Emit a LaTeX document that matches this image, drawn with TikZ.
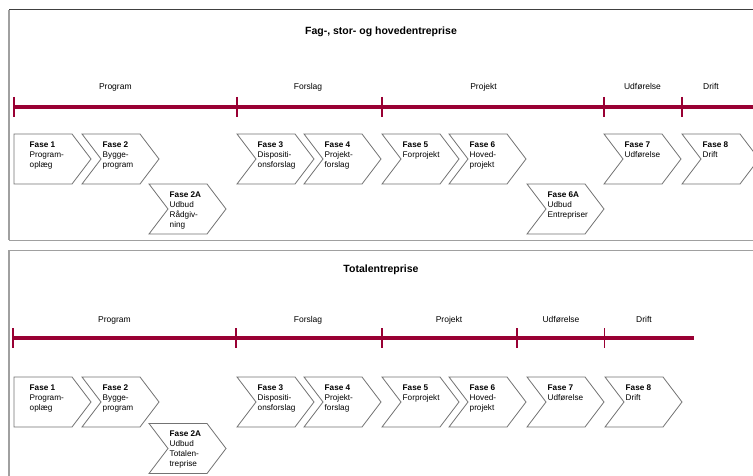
\documentclass[tikz,border=0pt]{standalone}
\usepackage{fontspec}
\setmainfont{Liberation Sans}
\usepackage{xcolor}
\usetikzlibrary{positioning, calc}
\definecolor{tlred}{RGB}{153,0,51}
\definecolor{chevgray}{RGB}{115,115,115}
\definecolor{framedark}{RGB}{64,64,64}
\definecolor{framegray}{RGB}{160,160,160}
\tikzset{%
  frametop/.style={draw=framedark, line width=1pt},
  frameside/.style={draw=framegray, line width=1.5pt},
  timeline/.style={draw=tlred, line width=3.6pt},
  tickmark/.style={draw=tlred, line width=1.7pt},
  title/.style={anchor=base, inner sep=0pt, font=\bfseries\fontsize{10.5}{12}\selectfont},
  phase/.style={anchor=base, inner sep=0pt, font=\fontsize{8.5}{10}\selectfont},
  fasebox/.style={draw=chevgray, fill=white, line width=0.8pt, line join=miter},
  fasetext/.style={anchor=north west, inner sep=0pt, align=left,
    font=\fontsize{8.2}{10}\selectfont}
}
% chevron: name, left x, top y, text
\newcommand{\fasechev}[4]{%
  \draw[fasebox] (#2,#3) -- ++(58,0) -- ++(19,25) -- ++(-19,25) -- ++(-58,0) -- ++(19,-25) -- cycle;
  \node[fasetext] (#1) at (#2+20.5,#3+7.4) {#4};
}
% first phase, flat left side
\newcommand{\fasestart}[4]{%
  \draw[fasebox] (#2,#3) -- ++(58,0) -- ++(19,25) -- ++(-19,25) -- ++(-58,0) -- cycle;
  \node[fasetext] (#1) at (#2+15.5,#3+7.4) {#4};
}

\begin{document}
\begin{tikzpicture}[x=1pt, y=-1pt]
  \useasboundingbox (0,0) rectangle (753,476);
  \clip (0,0) rectangle (753,476);

  % frames
  \draw[frametop] (9,10) -- (760,10);
  \draw[frameside] (9,10) -- (9,240);
  \draw[frameside, line width=1pt] (9,240) -- (760,240);
  \draw[frameside, line width=1pt] (9,250) -- (760,250);
  \draw[frameside] (9,250) -- (9,480);

  %%% Fag-, stor- og hovedentreprise
  \node[title] (t1) at (381,34.3) {Fag-, stor- og hovedentreprise};

  \coordinate (a0) at (14,107);
  \coordinate (a1) at (237,107);
  \coordinate (a2) at (382,107);
  \coordinate (a3) at (604,107);
  \coordinate (a4) at (682,107);
  \coordinate (aend) at (760,107);
  \draw[timeline] (a0) -- (aend);
  \foreach \t in {a0,a1,a2,a3,a4}
    \draw[tickmark] ($(\t)+(0,-10)$) -- ($(\t)+(0,10)$);

  \node[phase] (ap0) at (115.3,89.5) {Program};
  \node[phase] (ap1) at (308,89.5) {Forslag};
  \node[phase] (ap2) at (483.5,89.5) {Projekt};
  \node[phase] (ap3) at (642.5,89.5) {Udførelse};
  \node[phase] (ap4) at (711,89.5) {Drift};

  \fasestart{af1}{14}{134}{\textbf{Fase 1}\\Program-\\oplæg}
  \fasechev{af2}{82}{134}{\textbf{Fase 2}\\Bygge-\\program}
  \fasechev{af2a}{149}{184}{\textbf{Fase 2A}\\Udbud\\Rådgiv-\\ning}
  \fasechev{af3}{237}{134}{\textbf{Fase 3}\\Dispositi-\\onsforslag}
  \fasechev{af4}{304}{134}{\textbf{Fase 4}\\Projekt-\\forslag}
  \fasechev{af5}{382}{134}{\textbf{Fase 5}\\Forprojekt}
  \fasechev{af6}{449}{134}{\textbf{Fase 6}\\Hoved-\\projekt}
  \fasechev{af6a}{527}{184}{\textbf{Fase 6A}\\Udbud\\Entrepriser}
  \fasechev{af7}{604}{134}{\textbf{Fase 7}\\Udførelse}
  \fasechev{af8}{682}{134}{\textbf{Fase 8}\\Drift}

  %%% Totalentreprise
  \node[title] (t2) at (381,272.7) {Totalentreprise};

  \coordinate (b0) at (13,338);
  \coordinate (b1) at (236,338);
  \coordinate (b2) at (382,338);
  \coordinate (b3) at (517,338);
  \coordinate (b4) at (604.5,338);
  \coordinate (bend) at (694,338);
  \draw[timeline] (b0) -- (bend);
  \foreach \t in {b0,b1,b2,b3,b4}
    \draw[tickmark] ($(\t)+(0,-10)$) -- ($(\t)+(0,10)$);

  \node[phase] (bp0) at (114.5,322) {Program};
  \node[phase] (bp1) at (308,322) {Forslag};
  \node[phase] (bp2) at (449,322) {Projekt};
  \node[phase] (bp3) at (561,322) {Udførelse};
  \node[phase] (bp4) at (644,322) {Drift};

  \fasestart{bf1}{14}{377}{\textbf{Fase 1}\\Program-\\oplæg}
  \fasechev{bf2}{82}{377}{\textbf{Fase 2}\\Bygge-\\program}
  \fasechev{bf2a}{149}{423.5}{\textbf{Fase 2A}\\Udbud\\Totalen-\\treprise}
  \fasechev{bf3}{237}{377}{\textbf{Fase 3}\\Dispositi-\\onsforslag}
  \fasechev{bf4}{304}{377}{\textbf{Fase 4}\\Projekt-\\forslag}
  \fasechev{bf5}{382}{377}{\textbf{Fase 5}\\Forprojekt}
  \fasechev{bf6}{449}{377}{\textbf{Fase 6}\\Hoved-\\projekt}
  \fasechev{bf7}{527}{377}{\textbf{Fase 7}\\Udførelse}
  \fasechev{bf8}{605}{377}{\textbf{Fase 8}\\Drift}
\end{tikzpicture}
\end{document}
